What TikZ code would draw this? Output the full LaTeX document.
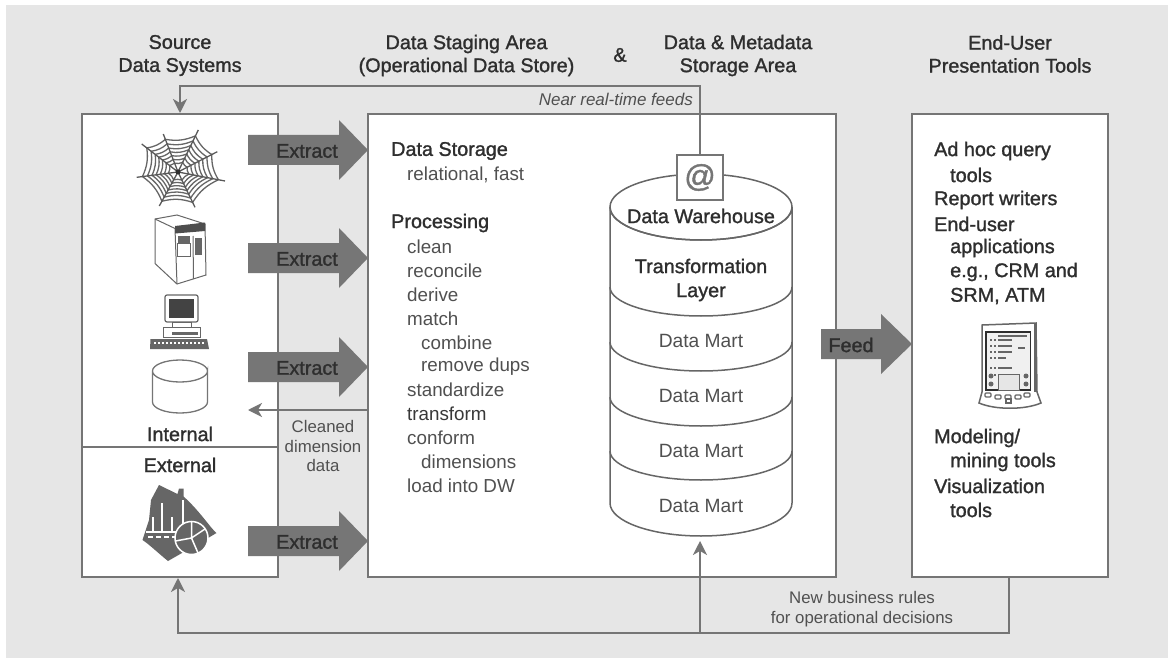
\documentclass[tikz,border=0pt]{standalone}
\usepackage{fontspec}
\setmainfont{Liberation Sans}
\newfontfamily\hb[FakeBold=1.3]{Liberation Sans}
\usetikzlibrary{arrows.meta,calc}
\definecolor{bgc}{HTML}{E6E6E6}
\definecolor{linec}{HTML}{757575}
\definecolor{arrowc}{HTML}{767676}
\definecolor{inkc}{HTML}{2E2E2E}
\definecolor{softc}{HTML}{505050}
\definecolor{iconc}{HTML}{666666}
\tikzset{
  x=1pt,y=-1pt,
  box/.style={draw=linec,line width=2pt,fill=white,inner sep=0pt},
  conn/.style={draw=linec,line width=1.6pt},
  tipped/.style={conn,-{Stealth[length=14pt,width=14pt,inset=4pt]}},
  cyl/.style={draw=iconc,line width=1.5pt},
  icon/.style={draw=iconc,line width=1pt},
  head/.style={font=\hb\fontsize{19.8}{23}\selectfont,text=inkc,align=center,inner sep=0pt,yshift=-1pt},
  strong/.style={font=\hb\fontsize{19.8}{23}\selectfont,text=inkc,inner sep=0pt,yshift=-1pt},
  item/.style={font=\fontsize{18.8}{23}\selectfont,text=softc,anchor=west,inner sep=0pt,yshift=-0.5pt},
  stronglist/.style={strong,anchor=west},
  note/.style={font=\fontsize{16.8}{19.5}\selectfont,text=softc,align=center,inner sep=0pt,yshift=-1pt},
  mart/.style={font=\fontsize{19.2}{23}\selectfont,text=softc,inner sep=0pt},
  block/.pic={
    \fill[arrowc] (-60,-15) -- (31,-15) -- (31,-30) -- (60,0) -- (31,30) -- (31,15) -- (-60,15) -- cycle;
  },
  feedblock/.pic={
    \fill[arrowc] (-45,-15) -- (15,-15) -- (15,-30) -- (46,0) -- (15,30) -- (15,15) -- (-45,15) -- cycle;
  },
}
\begin{document}
\begin{tikzpicture}
\useasboundingbox (0,0) rectangle (1168,658);
\fill[white] (0,0) rectangle (1168,658);
\fill[bgc] (6,5) rectangle (1168,658);

% boxes
\node[box,minimum width=196pt,minimum height=463pt] (src) at (180,345.5) {};
\node[box,minimum width=468pt,minimum height=463pt] (mid) at (602,345.5) {};
\node[box,minimum width=196pt,minimum height=463pt] (pres) at (1010,345.5) {};
\coordinate (divL) at (82,447);
\coordinate (divR) at (278,447);
\draw[conn] (divL) -- (divR);

% cylinder
\coordinate (cylNW) at (610,207);
\coordinate (cylNE) at (792,207);
\coordinate (cylSW) at (610,503);
\coordinate (cylSE) at (792,503);
\draw[cyl,fill=white] (cylNW) -- (cylSW) arc[start angle=180,end angle=360,x radius=91,y radius=-33] -- (cylNE)
   arc[start angle=0,end angle=360,x radius=91,y radius=33];
\draw[cyl] (610,207) arc[start angle=180,end angle=360,x radius=91,y radius=-33];
\foreach \yy in {287,342,397,451}
  \draw[cyl] (610,\yy) arc[start angle=180,end angle=360,x radius=91,y radius=-29];
\node[strong] (dw) at (701,215) {Data Warehouse};
\node[strong,align=center,font=\hb\fontsize{19.8}{24}\selectfont] (tl) at (701,279) {Transformation\\Layer};
\node[mart] (m1) at (701,341) {Data Mart};
\node[mart] (m2) at (701,396) {Data Mart};
\node[mart] (m3) at (701,451) {Data Mart};
\node[mart] (m4) at (701,506) {Data Mart};

% feedback connectors
\node[draw=linec,line width=1.5pt,fill=white,minimum width=46pt,minimum height=45pt,inner sep=0pt,font=\hb\fontsize{31}{31}\selectfont,text=linec] (at) at (700,177.5) {@};
\coordinate (nearTurn) at (at.north |- 0,86);
\coordinate (srcTop) at (180,113);
\draw[tipped] (at.north) -- (nearTurn) -| (srcTop);
\coordinate (presOut) at (1009,576);
\coordinate (botRight) at (1009,633);
\coordinate (botLeft) at (178,633);
\coordinate (srcBot) at (178,578);
\coordinate (dwIn) at (700,541);
\coordinate (botMid) at (700,633);
\draw[tipped] (presOut) -- (botRight) -- (botLeft) -- (srcBot);
\draw[tipped] (botMid) -- (dwIn);
\coordinate (cleanStart) at (368,410);
\coordinate (cleanEnd) at (248,410);
\draw[tipped] (cleanStart) -- (cleanEnd);

% block arrows
\pic at (308,150) {block};
\pic at (308,258) {block};
\pic at (308,367) {block};
\pic at (308,541) {block};
\pic at (866,344) {feedblock};
\node[strong] (e1) at (307,150) {Extract};
\node[strong] (e2) at (307,258) {Extract};
\node[strong] (e3) at (307,367) {Extract};
\node[strong] (e4) at (307,541) {Extract};
\node[strong] (feed) at (851,344) {Feed};

% headings
\node[head] (h1) at (180,54.5) {Source\\Data Systems};
\node[head] (h2) at (466.5,54.5) {Data Staging Area\\(Operational Data Store)};
\node[head] (amp) at (620,54) {\&};
\node[head] (h3) at (738,54.5) {Data \& Metadata\\Storage Area};
\node[head] (h4) at (1010,53) {End-User\\Presentation Tools};

% notes
\node[note,anchor=east,font=\itshape\fontsize{17}{19.5}\selectfont] (near) at (693,98) {Near real-time feeds};
\node[note] (clean) at (323,445) {Cleaned\\dimension\\data};
\node[note] (rules) at (862,608) {New business rules\\for operational decisions};
\node[strong] (int) at (180,433) {Internal};
\node[strong] (ext) at (180,464) {External};

% middle list
\node[stronglist] (a1) at (391,150) {Data Storage};
\node[item] (a2) at (407,174) {relational, fast};
\node[stronglist] (a3) at (391,222) {Processing};
\node[item] (a4) at (407,246) {clean};
\node[item] (a5) at (407,270) {reconcile};
\node[item] (a6) at (407,294) {derive};
\node[item] (a7) at (407,318) {match};
\node[item] (a8) at (421,342) {combine};
\node[item] (a9) at (421,366) {remove dups};
\node[item] (a10) at (407,389) {standardize};
\node[item,text=softc!70!black] (a11) at (407,413) {transform};
\node[item] (a12) at (407,437) {conform};
\node[item] (a13) at (421,461) {dimensions};
\node[item] (a14) at (407,485) {load into DW};

% right list
\node[stronglist] (b1) at (934,150) {Ad hoc query};
\node[stronglist] (b2) at (950,174) {tools};
\node[stronglist] (b3) at (934,199) {Report writers};
\node[stronglist] (b4) at (934,223) {End-user};
\node[stronglist] (b5) at (950,247) {applications};
\node[stronglist] (b6) at (950,271) {e.g., CRM and};
\node[stronglist] (b7) at (950,295) {SRM, ATM};
\node[stronglist] (b8) at (934,437) {Modeling/};
\node[stronglist] (b9) at (950,461) {mining tools};
\node[stronglist] (b10) at (934,485) {Visualization};
\node[stronglist] (b11) at (950,509) {tools};

% web icon
\begin{scope}
\coordinate (wc) at (178,172);
\coordinate (w0) at (198.3,130);
\coordinate (w1) at (217.3,151.7);
\coordinate (w2) at (225,181);
\coordinate (w3) at (195,207.3);
\coordinate (w4) at (159.3,206);
\coordinate (w5) at (136.7,177.3);
\coordinate (w6) at (141.7,144);
\coordinate (w7) at (163.3,134);
\foreach \i/\j in {0/1,1/2,2/3,3/4,4/5,5/6,6/7,7/0}{
  \foreach \t in {0.86,0.74,0.63,0.53,0.43,0.33,0.23}
    \draw[draw=iconc,line width=1.3pt] ($(wc)!\t!(w\i)$) to[bend right=16] ($(wc)!\t!(w\j)$);
}
\foreach \i in {0,...,7}
  \draw[draw=inkc!80,line width=1.3pt] (wc) -- (w\i);
\fill[inkc] (wc) circle (2.5pt);
\end{scope}

% server icon
\begin{scope}
\draw[icon,fill=white] (155,219) -- (177,215) -- (205,224) -- (206,275) -- (177,284) -- (155,263.5) -- cycle;
\draw[icon] (155,219) -- (175,228.5) -- (205,224);
\draw[icon] (175,228.5) -- (177,284);
\fill[inkc!85] (175,226) -- (205,222.5) -- (205,231) -- (175,233.5) -- cycle;
\draw[icon,fill=white] (177.5,243) rectangle (190,256);
\fill[iconc] (178,236) rectangle (190,243);
\draw[icon] (193,236) -- (193.5,279);
\fill[iconc] (195,238) rectangle (202,255);
\end{scope}

% PC icon
\begin{scope}
\draw[icon,fill=white,rounded corners=2pt,line width=1.2pt] (165,295) rectangle (198,322);
\fill[inkc!90] (168.5,298.5) rectangle (194,318);
\draw[icon,fill=white] (172,322) rectangle (191,327);
\draw[icon,fill=white] (163,327) rectangle (200,337);
\fill[iconc] (172,331.5) rectangle (198,335);
\fill[iconc] (150.5,339) -- (207,339) -- (209,349) -- (150,349) -- cycle;
\foreach \k in {154,158,...,204}
  \fill[white] (\k,342) rectangle +(2,2);
\end{scope}

% database icon
\draw[draw=linec,line width=1.3pt,fill=white] (152.5,371) -- (152.5,402) arc[start angle=180,end angle=360,x radius=27.5,y radius=-11] -- (207.5,371) arc[start angle=0,end angle=360,x radius=27.5,y radius=11];

% chart icon
\begin{scope}
\fill[iconc] (151,500) -- (159,485) -- (177.5,494) -- (179,488.5) -- (183.5,488.5) -- (183.5,496.5)
  .. controls (199,510) and (212,530) .. (216.5,533) -- (203,541) -- (168,561) .. controls (158,553) and (150,545) .. (142.5,540) -- (149,520) -- cycle;
\foreach \xa/\ya in {153/517,162/503,172/517,183/500}
  \draw[draw=white,line width=2.8pt] (\xa,\ya) -- (\xa,532);
\draw[draw=white,line width=2.5pt] (146,532) -- (183,532);
\draw[draw=white,line width=1.5pt,dash pattern=on 5pt off 3pt] (148,537) -- (178,537);
\fill[iconc,draw=white,line width=1.5pt] (191.5,538) circle (16.5pt);
\draw[draw=white,line width=1.5pt] (191.5,538) -- (191.5,521.5) (191.5,538) -- (205,529) (191.5,538) -- (198,553) (191.5,538) -- (175.5,541);
\end{scope}

% PDA icon
\begin{scope}
\draw[draw=iconc,line width=1.5pt,fill=white] (982,325) -- (1036,323) -- (1037,392) -- (1041,403) .. controls (1025,410) and (995,410) .. (979,403) -- (982,392) -- cycle;
\fill[iconc] (1034,324) rectangle (1037,392);
\draw[draw=inkc,line width=1.6pt,fill=bgc!60!white] (986,332) rectangle (1030.5,390);
\foreach \yy/\xe in {336/1027,340/1012,346/1012,352/1012,358/1006,368/1012,375/1012}
  \draw[draw=iconc,line width=1.6pt] (998,\yy) -- (\xe,\yy);
\foreach \yy in {340,346,352,358,368,375}
  \draw[draw=iconc,line width=1.6pt,dash pattern=on 2pt off 2pt] (990,\yy) -- (996,\yy);
\draw[draw=iconc,line width=1.6pt] (1018,348) -- (1025,348);
\draw[draw=iconc,line width=1pt,fill=bgc] (998,374) rectangle (1019,390);
\foreach \xx/\yy in {991/376,991/384,1026/376,1026/384}
  \fill[iconc] (\xx,\yy) circle (2.5pt);
\foreach \xx/\yy in {988/395,998/397,1008/397,1018/397,1027/395}
  \draw[draw=iconc,line width=1.2pt,fill=white,rounded corners=1pt] (\xx-3,\yy-2) rectangle (\xx+3,\yy+2);
\draw[draw=iconc,line width=1.2pt,fill=white] (1006,399) rectangle (1011,403);
\end{scope}
\end{tikzpicture}
\end{document}
